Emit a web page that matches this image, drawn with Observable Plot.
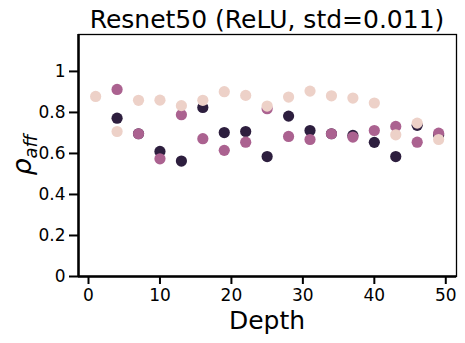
<!DOCTYPE html>
<html>
<head>
<meta charset="utf-8">
<script src="https://cdn.jsdelivr.net/npm/d3@7"></script>
<script src="https://cdn.jsdelivr.net/npm/@observablehq/plot@0.6"></script>
<style>
  html, body { margin: 0; padding: 0; background: white; }
  svg { display: block; font-family: "DejaVu Sans", sans-serif; }
</style>
</head>
<body>
<div id="chart"></div>
<script>
const depth = [1, 4, 7, 10, 13, 16, 19, 22, 25, 28, 31, 34, 37, 40, 43, 46, 49];
const seriesNames = ["dark", "mid", "light"];
const seriesColors = ["#2d1e3e", "#ab6290", "#edd1c8"];
const darkVals  = [null, 0.772, 0.696, 0.610, 0.563, 0.824, 0.702, 0.707, 0.585, 0.782, 0.712, 0.696, 0.688, 0.654, 0.585, 0.737, 0.690];
const midVals   = [null, 0.912, 0.696, 0.574, 0.789, 0.672, 0.615, 0.655, 0.818, 0.683, 0.668, 0.696, 0.680, 0.712, 0.732, 0.655, 0.699];
const lightVals = [0.878, 0.707, 0.859, 0.860, 0.833, 0.859, 0.901, 0.883, 0.831, 0.875, 0.904, 0.881, 0.870, 0.846, 0.691, 0.748, 0.668];
const xTicks = [0, 10, 20, 30, 40, 50];
const yTicks = [0, 0.2, 0.4, 0.6, 0.8, 1];
const yTickLabels = ["0", "0.2", "0.4", "0.6", "0.8", "1"];
const titleText = "Resnet50 (ReLU, std=0.011)";
const xLabel = "Depth";

const allVals = [darkVals, midVals, lightVals];
const data = [];
seriesNames.forEach((s, i) => depth.forEach((d, j) => {
  if (allVals[i][j] != null) data.push({depth: d, rho: allVals[i][j], series: s});
}));

const W = 465, H = 343;
const plot = Plot.plot({
  width: W, height: H,
  marginLeft: 78, marginRight: 9, marginTop: 34, marginBottom: 67,
  style: {fontFamily: "DejaVu Sans, sans-serif", background: "white", color: "black"},
  x: {domain: [-1.4, 51.5]},
  y: {domain: [0, 1.18]},
  color: {domain: seriesNames, range: seriesColors},
  marks: [
    Plot.frame({stroke: "black", strokeWidth: 1.3}),
    Plot.ruleX([-1.4], {stroke: "black", strokeWidth: 2.5}),
    Plot.ruleY([0], {stroke: "black", strokeWidth: 2.5}),
    Plot.axisX({ticks: xTicks, tickSize: 8, tickPadding: 4, fontSize: 17, strokeWidth: 2, label: null, tickFormat: d => String(d)}),
    Plot.axisY({ticks: yTicks, tickSize: 9, tickPadding: 4, fontSize: 17, strokeWidth: 2, label: null, tickFormat: (d, i) => yTickLabels[i]}),
    Plot.dot(data, {x: "depth", y: "rho", fill: "series", r: 5.6, stroke: "none"})
  ]
});
document.getElementById("chart").appendChild(plot);

const svg = d3.select(plot);
const cx = (78 + (W - 9)) / 2;
svg.append("text").attr("x", cx).attr("y", 28).attr("text-anchor", "middle")
  .attr("font-size", 25).attr("fill", "black").text(titleText);
svg.append("text").attr("x", cx).attr("y", 329).attr("text-anchor", "middle")
  .attr("font-size", 25).attr("fill", "black").text(xLabel);
const yl = svg.append("text").attr("transform", `translate(31,155) rotate(-90)`)
  .attr("text-anchor", "middle").attr("fill", "black").attr("font-style", "italic");
yl.append("tspan").attr("font-size", 27).text("ρ");
yl.append("tspan").attr("font-size", 18).attr("dy", 6).text("aff");
</script>
</body>
</html>
